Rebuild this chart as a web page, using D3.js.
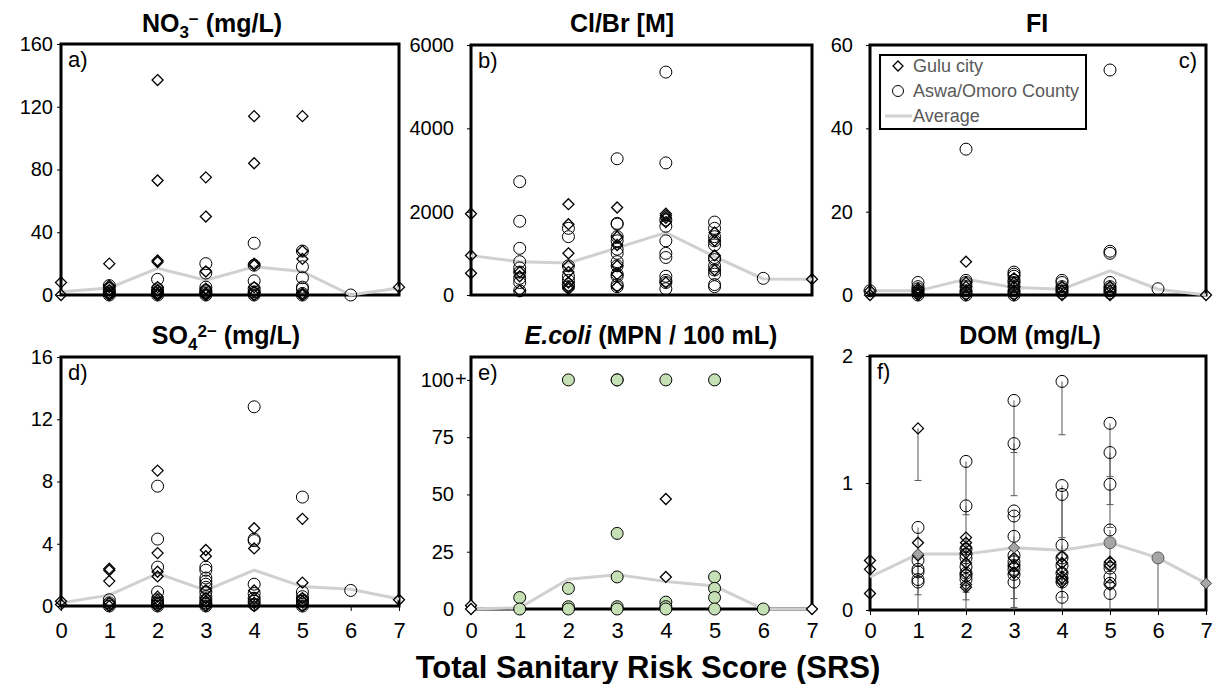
<!DOCTYPE html>
<html lang="en">
<head>
<meta charset="utf-8" />
<title>Water quality vs Sanitary Risk Score</title>
<script src="https://cdnjs.cloudflare.com/ajax/libs/d3/7.8.5/d3.min.js"></script>
<style>
  body { margin: 0; background: #fff; }
  svg { font-family: "Liberation Sans", Arial, sans-serif; }
  .frame { fill: none; stroke: #000; stroke-width: 3; }
  .avg { fill: none; stroke: #d0d0d0; stroke-width: 3; }
  .err { stroke: #595959; stroke-width: 1; }
  .title { font-weight: bold; font-size: 25px; text-anchor: middle; }
  .letter { font-size: 22px; }
</style>
</head>
<body>
<svg id="chart" width="1213" height="684"></svg>
<script>
const srs = [0, 1, 2, 3, 4, 5, 6, 7];

// values per SRS score (index = score)
const no3Gulu = [[8, 0], [20, 5, 6, 3, 1, 0], [137, 73, 22, 21, 5, 3, 1, 0], [75, 50, 15, 4, 1, 0], [114, 84, 20, 19, 5, 2, 0], [114, 28, 23, 1, 0], [], [5]];
const no3Aswa = [[], [6, 4, 2, 1, 0], [10, 4, 2, 1, 0], [20, 14, 5, 3, 2, 1, 0], [33, 19, 9, 4, 2, 1, 0], [28, 18, 11, 5, 4, 1, 0], [0], []];
const no3Avg = [2, 4.5, 17, 9.5, 18, 15, 0, 4.5];
const no3Ticks = [0, 40, 80, 120, 160];

const clbrGulu = [[1950, 950, 520], [550, 450, 100], [2180, 1700, 1000, 700, 550, 300, 200, 150], [2100, 1400, 1200, 700, 500, 200], [1950, 1900, 1850, 1750, 300], [1500, 1300, 950, 600], [], [380]];
const clbrAswa = [[], [2720, 1770, 1120, 800, 650, 550, 400, 300, 100], [1600, 1400, 700, 450, 350, 250, 200], [3270, 1720, 1700, 1400, 1300, 1100, 1000, 800, 700, 500, 450, 250, 200], [5350, 3170, 1800, 1650, 1300, 1000, 900, 450, 350, 300, 150], [1750, 1600, 1400, 1300, 1200, 900, 850, 700, 600, 500, 250, 200], [400], []];
const clbrAvg = [945, 800, 770, 1130, 1500, 920, 385, 380];
const clbrTicks = [0, 2000, 4000, 6000];

const fiGulu = [[1, 0], [1.5, 1, 0.5, 0], [8, 3, 2, 1, 0], [4, 3, 2, 1, 0], [2, 1, 0], [2, 1, 0], [], [0]];
const fiAswa = [[1], [3, 2, 1.5, 1, 0.5, 0], [35, 3.5, 3, 2, 1, 0.5, 0], [5.5, 5, 4.5, 3.5, 3, 2, 1, 0.5, 0], [3.5, 3, 2, 1.5, 1, 0.5], [54, 10.5, 10, 3, 2, 1.5, 1, 0.5], [1.5], []];
const fiAvg = [1, 1, 3.8, 1.8, 1.4, 5.8, 1.4, 0];
const fiTicks = [0, 20, 40, 60];

const so4Gulu = [[0.3, 0.1], [2.4, 2.3, 1.6, 0.2, 0], [8.7, 3.4, 2.2, 1.9, 0.6, 0.4, 0.2, 0], [3.6, 3.2, 1.0, 0.5, 0.3, 0], [5.0, 3.7, 1.0, 0.5, 0.2, 0], [5.6, 1.5, 0.5, 0.3, 0], [], [0.4]];
const so4Aswa = [[], [0.4, 0.2, 0.1, 0], [7.7, 4.3, 2.5, 0.9, 0.4, 0.2, 0.1, 0], [2.5, 2.3, 1.8, 1.6, 1.4, 1.2, 0.9, 0.6, 0.4, 0.2, 0.1, 0], [12.8, 4.3, 4.2, 1.4, 0.8, 0.5, 0.3, 0.1], [7.0, 0.9, 0.6, 0.4, 0.3, 0.1, 0], [1.0], []];
const so4Avg = [0.2, 0.7, 2.1, 1.0, 2.3, 1.25, 1.07, 0.45];
const so4Ticks = [0, 4, 8, 12, 16];

const ecoliGulu = [[1.5, 0], [], [], [], [48, 14], [], [], [0]];
const ecoliAswa = [[], [5, 0], [100, 9, 1, 0], [100, 100, 33, 14, 1, 0], [100, 3, 1, 0], [100, 14, 9, 5, 0], [0], []];
const ecoliAvg = [0, 0.5, 13, 15, 12, 10, 0, 0];
const ecoliTicks = [0, 25, 50, 75, 100];

const domGulu = [[0.39, 0.32, 0.13], [1.43, 0.53, 0.43], [0.57, 0.53, 0.49, 0.45, 0.37, 0.29, 0.20, 0.18], [0.41, 0.35, 0.29], [0.42, 0.37, 0.30, 0.25, 0.22], [0.38, 0.35, 0.20], [], []];
const domAswa = [[], [0.65, 0.39, 0.32, 0.30, 0.24, 0.22], [1.17, 0.82, 0.48, 0.44, 0.41, 0.34, 0.29, 0.27, 0.24], [1.65, 1.31, 0.78, 0.74, 0.58, 0.43, 0.38, 0.35, 0.32, 0.28, 0.22], [1.80, 0.98, 0.91, 0.51, 0.41, 0.35, 0.29, 0.25, 0.22, 0.10], [1.47, 1.24, 0.99, 0.63, 0.36, 0.33, 0.26, 0.21, 0.13], [], []];
const domAvg = [0.26, 0.44, 0.44, 0.49, 0.47, 0.53, 0.41, 0.21];
const domAvgShape = ["", "diamond", "", "diamond", "", "circle", "circle", "diamond"];
// minus error bars: [score, value, lower end]
const domErr = [[1, 1.43, 1.02], [1, 0.65, 0.12], [1, 0.43, 0], [2, 1.17, 0.75], [2, 0.82, 0.14], [2, 0.57, 0.08], [2, 0.49, 0],
  [3, 1.65, 0.90], [3, 1.31, 1.24], [3, 0.78, 0.09], [3, 0.58, 0.02], [3, 0.49, 0], [4, 1.80, 1.38], [4, 0.98, 0.57], [4, 0.91, 0.10], [4, 0.51, 0],
  [5, 1.47, 1.05], [5, 1.24, 0.83], [5, 0.99, 0.65], [5, 0.63, 0], [6, 0.41, 0]];
const domTicks = [0, 1, 2];

const legendLabels = ["Gulu city", "Aswa/Omoro County", "Average"];

const svg = d3.select("#chart");

const panels = [
  { letter: "a)", gulu: no3Gulu, aswa: no3Aswa, avg: no3Avg, ticks: no3Ticks, max: 160, x0: 61, x1: 399, y0: 44, y1: 295, pad: 4, titleX: 212, titleY: 32, title: "no3" },
  { letter: "b)", gulu: clbrGulu, aswa: clbrAswa, avg: clbrAvg, ticks: clbrTicks, max: 6000, x0: 471, x1: 812, y0: 45, y1: 295, pad: 13, titleX: 622, titleY: 32, title: "Cl/Br [M]" },
  { letter: "c)", gulu: fiGulu, aswa: fiAswa, avg: fiAvg, ticks: fiTicks, max: 60, x0: 870, x1: 1206, y0: 45, y1: 295, pad: 13, titleX: 1037, titleY: 32, title: "FI", legend: true },
  { letter: "d)", gulu: so4Gulu, aswa: so4Aswa, avg: so4Avg, ticks: so4Ticks, max: 16, x0: 61, x1: 399, y0: 357, y1: 606, pad: 4, titleX: 226, titleY: 344, title: "so4", bottom: true },
  { letter: "e)", gulu: ecoliGulu, aswa: ecoliAswa, avg: ecoliAvg, ticks: ecoliTicks, max: 110, x0: 471, x1: 812, y0: 357, y1: 609, pad: 13, titleX: 651, titleY: 344, title: "ecoli", bottom: true, green: true },
  { letter: "f)", gulu: domGulu, aswa: domAswa, avg: domAvg, ticks: domTicks, max: 2, x0: 870, x1: 1206, y0: 356, y1: 610, pad: 13, titleX: 1030, titleY: 344, title: "DOM (mg/L)", bottom: true, dom: true }
];

const diamond = (r) => `M0,${-r}L${r},0L0,${r}L${-r},0Z`;

function drawTitle(g, p) {
  const t = g.append("text").attr("class", "title").attr("x", p.titleX).attr("y", p.titleY);
  if (p.title === "no3") {
    t.append("tspan").text("NO");
    t.append("tspan").attr("font-size", 17).attr("dy", 6).text("3");
    t.append("tspan").attr("font-size", 17).attr("dy", -13).text("\u2212");
    t.append("tspan").attr("dy", 7).text(" (mg/L)");
  } else if (p.title === "so4") {
    t.append("tspan").text("SO");
    t.append("tspan").attr("font-size", 17).attr("dy", 6).text("4");
    t.append("tspan").attr("font-size", 17).attr("dy", -13).text("2\u2212");
    t.append("tspan").attr("dy", 7).text(" (mg/L)");
  } else if (p.title === "ecoli") {
    t.append("tspan").attr("font-style", "italic").text("E.coli");
    t.append("tspan").text(" (MPN / 100 mL)");
  } else {
    t.text(p.title);
  }
}

function drawPanel(p) {
  const x = d3.scaleLinear().domain([0, 7]).range([p.x0, p.x1]);
  const y = d3.scaleLinear().domain([0, p.max]).range([p.y1, p.y0]);
  const g = svg.append("g");

  drawTitle(g, p);

  // y axis
  const yAxis = g.append("g")
    .attr("transform", `translate(${p.x0},0)`)
    .call(d3.axisLeft(y).tickValues(p.ticks).tickSize(4).tickPadding(p.pad)
      .tickFormat(p.green ? (d) => (d === 100 ? "100" : d) : d3.format("d")));
  yAxis.attr("font-family", null).attr("font-size", null);
  yAxis.select(".domain").remove();
  yAxis.selectAll("line").attr("stroke", "#000");
  yAxis.selectAll("text").attr("font-size", 20).attr("fill", "#000");
  if (p.green) {
    g.append("text").attr("x", p.x0 - 16).attr("y", y(100)).attr("dy", "0.32em")
      .attr("font-size", 20).text("+");
  }

  // x axis (bottom row only shows labels)
  if (p.bottom) {
    const xAxis = g.append("g")
      .attr("transform", `translate(0,${p.y1})`)
      .call(d3.axisBottom(x).tickValues(srs).tickSize(5).tickFormat(d3.format("d")));
    xAxis.attr("font-family", null).attr("font-size", null);
    xAxis.select(".domain").remove();
    xAxis.selectAll("line").attr("stroke", "#000");
    xAxis.selectAll("text").attr("font-size", 22).attr("fill", "#000")
      .attr("dy", 0).attr("y", 638 - p.y1);
  }

  g.append("rect").attr("class", "frame")
    .attr("x", p.x0).attr("y", p.y0)
    .attr("width", p.x1 - p.x0).attr("height", p.y1 - p.y0);

  // average line
  g.append("path").attr("class", "avg")
    .attr("d", d3.line().x((d, i) => x(srs[i])).y((d) => y(d))(p.avg));

  // error bars (DOM panel)
  if (p.dom) {
    domErr.forEach(([s, v, lo]) => {
      g.append("line").attr("class", "err")
        .attr("x1", x(s)).attr("x2", x(s)).attr("y1", y(v)).attr("y2", y(lo));
      if (lo > 0) {
        g.append("line").attr("class", "err")
          .attr("x1", x(s) - 3.5).attr("x2", x(s) + 3.5).attr("y1", y(lo)).attr("y2", y(lo));
      }
    });
  }

  const guluPts = p.gulu.flatMap((vals, i) => vals.map((v) => ({ s: srs[i], v })));
  const aswaPts = p.aswa.flatMap((vals, i) => vals.map((v) => ({ s: srs[i], v })));

  g.selectAll(".aswa").data(aswaPts).enter().append("circle")
    .attr("cx", (d) => x(d.s)).attr("cy", (d) => y(d.v)).attr("r", 6)
    .attr("fill", p.green ? "#c5e0b4" : "none")
    .attr("stroke", "#000").attr("stroke-width", 1);

  g.selectAll(".gulu").data(guluPts).enter().append("path")
    .attr("d", diamond(5.5))
    .attr("transform", (d) => `translate(${x(d.s)},${y(d.v)})`)
    .attr("fill", p.green ? "#fff" : "none")
    .attr("stroke", "#000").attr("stroke-width", 1.3);

  if (p.dom) {
    domAvg.forEach((v, i) => {
      if (domAvgShape[i] === "circle") {
        g.append("circle").attr("cx", x(srs[i])).attr("cy", y(v)).attr("r", 6)
          .attr("fill", "#a6a6a6").attr("stroke", "#595959");
      } else if (domAvgShape[i] === "diamond") {
        g.append("path").attr("d", diamond(5.5))
          .attr("transform", `translate(${x(srs[i])},${y(v)})`)
          .attr("fill", "#a6a6a6").attr("stroke", "#404040");
      }
    });
  }

  // panel letter
  if (p.legend) {
    g.append("text").attr("class", "letter").attr("x", p.x1 - 9).attr("y", p.y0 + 23)
      .attr("text-anchor", "end").text(p.letter);
    drawLegend(g);
  } else {
    g.append("text").attr("class", "letter").attr("x", p.x0 + 7).attr("y", p.y0 + 23).text(p.letter);
  }
}

function drawLegend(g) {
  const lg = g.append("g");
  lg.append("rect").attr("x", 880).attr("y", 55).attr("width", 206).attr("height", 74)
    .attr("fill", "#fff").attr("stroke", "#000").attr("stroke-width", 2);
  legendLabels.forEach((label, i) => {
    const cy = 66 + i * 25;
    if (i === 0) {
      lg.append("path").attr("d", diamond(5)).attr("transform", `translate(898,${cy})`)
        .attr("fill", "none").attr("stroke", "#000").attr("stroke-width", 1.3);
    } else if (i === 1) {
      lg.append("circle").attr("cx", 898).attr("cy", cy).attr("r", 5.5)
        .attr("fill", "none").attr("stroke", "#000");
    } else {
      lg.append("line").attr("x1", 885).attr("x2", 912).attr("y1", cy).attr("y2", cy)
        .attr("stroke", "#d0d0d0").attr("stroke-width", 3);
    }
    lg.append("text").attr("x", 913).attr("y", cy).attr("dy", "0.35em")
      .attr("font-size", 18).attr("fill", "#595959").text(label);
  });
}

panels.forEach(drawPanel);

svg.append("text")
  .attr("x", 648).attr("y", 678)
  .attr("text-anchor", "middle")
  .attr("font-weight", "bold").attr("font-size", 31)
  .text("Total Sanitary Risk Score (SRS)");
</script>
</body>
</html>
